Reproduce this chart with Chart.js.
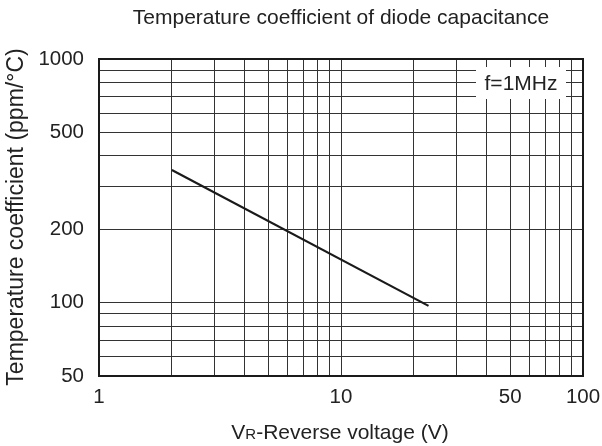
<!DOCTYPE html>
<html>
<head>
<meta charset="utf-8">
<script src="https://cdn.jsdelivr.net/npm/chart.js@4"></script>
<style>
  html, body { margin: 0; padding: 0; background: #fff; }
  #wrap { width: 602px; height: 446px; }
</style>
</head>
<body>
<div id="wrap"><canvas id="chart" width="602" height="446"></canvas></div>
<script>
// reverse voltage (V) and temperature coefficient (ppm/°C)
var voltage = [2, 23];
var tempCoef = [350, 97];

var xGrid = [1, 2, 3, 4, 5, 6, 7, 8, 9, 10, 20, 30, 40, 50, 60, 70, 80, 90, 100];
var xLabels = [1, 10, 50, 100];
var yGrid = [50, 60, 70, 80, 90, 100, 200, 300, 400, 500, 600, 700, 800, 900, 1000];
var yLabels = [50, 100, 200, 500, 1000];

var titleText = 'Temperature coefficient of diode capacitance';
var yTitleText = 'Temperature coefficient (ppm/\u00b0C)';
var noteText = 'f=1MHz';

var FONT = '"Liberation Sans", Arial, sans-serif';
var INK = '#222';

function fixedTicks(list) {
  return function(scale) {
    scale.ticks = list.map(function(v) { return {value: v}; });
  };
}

var decorations = {
  id: 'decorations',
  afterDraw: function(chart) {
    var ctx = chart.ctx;
    var a = chart.chartArea;
    ctx.save();

    // frame
    ctx.strokeStyle = '#1a1a1a';
    ctx.lineWidth = 2;
    ctx.strokeRect(a.left, a.top, a.right - a.left, a.bottom - a.top);

    // note box over the grid
    ctx.fillStyle = '#fff';
    ctx.fillRect(476, 67, 90, 32);
    ctx.fillStyle = INK;
    ctx.font = '21px ' + FONT;
    ctx.textAlign = 'center';
    ctx.textBaseline = 'middle';
    ctx.fillText(noteText, 521, 84);

    // title
    ctx.fillText(titleText, 341, 18);

    // x axis title, with the small R
    var big = '21px ' + FONT, small = '15px ' + FONT;
    ctx.textAlign = 'left';
    ctx.textBaseline = 'alphabetic';
    ctx.font = big;
    var wV = ctx.measureText('V').width;
    var wRest = ctx.measureText('-Reverse voltage (V)').width;
    ctx.font = small;
    var wR = ctx.measureText('R').width;
    var x = 340 - (wV + wR + wRest) / 2;
    var base = 439;
    ctx.font = big;
    ctx.fillText('V', x, base);
    ctx.font = small;
    ctx.fillText('R', x + wV, base);
    ctx.font = big;
    ctx.fillText('-Reverse voltage (V)', x + wV + wR, base);

    // y axis title
    ctx.font = '23px ' + FONT;
    ctx.translate(17, 217);
    ctx.rotate(-Math.PI / 2);
    ctx.textAlign = 'center';
    ctx.textBaseline = 'middle';
    ctx.fillText(yTitleText, 0, 0);
    ctx.restore();
  }
};

new Chart(document.getElementById('chart'), {
  type: 'line',
  data: {
    datasets: [{
      data: voltage.map(function(v, i) { return {x: v, y: tempCoef[i]}; }),
      borderColor: '#1a1a1a',
      borderWidth: 2.2,
      pointRadius: 0,
      fill: false
    }]
  },
  options: {
    responsive: false,
    animation: false,
    layout: { padding: { top: 59, right: 19, left: 0, bottom: 0 } },
    plugins: { legend: { display: false }, tooltip: { enabled: false } },
    scales: {
      x: {
        type: 'logarithmic',
        min: 1,
        max: 100,
        afterBuildTicks: fixedTicks(xGrid),
        afterFit: function(scale) {
          scale.height = 70;
          scale.paddingLeft = 0;
          scale.paddingRight = 0;
        },
        grid: { color: '#333', lineWidth: 1, drawTicks: false },
        border: { display: false },
        ticks: {
          autoSkip: false,
          maxRotation: 0,
          padding: 9,
          color: INK,
          font: { family: FONT, size: 20.5 },
          callback: function(v) { return xLabels.indexOf(v) >= 0 ? String(v) : ''; }
        }
      },
      y: {
        type: 'logarithmic',
        min: 50,
        max: 1000,
        afterBuildTicks: fixedTicks(yGrid),
        afterFit: function(scale) {
          scale.width = 99;
          scale.paddingTop = 0;
          scale.paddingBottom = 0;
        },
        grid: { color: '#333', lineWidth: 1, drawTicks: false },
        border: { display: false },
        ticks: {
          autoSkip: false,
          padding: 15,
          color: INK,
          font: { family: FONT, size: 20.5 },
          callback: function(v) { return yLabels.indexOf(v) >= 0 ? String(v) : ''; }
        }
      }
    }
  },
  plugins: [decorations]
});
</script>
</body>
</html>
